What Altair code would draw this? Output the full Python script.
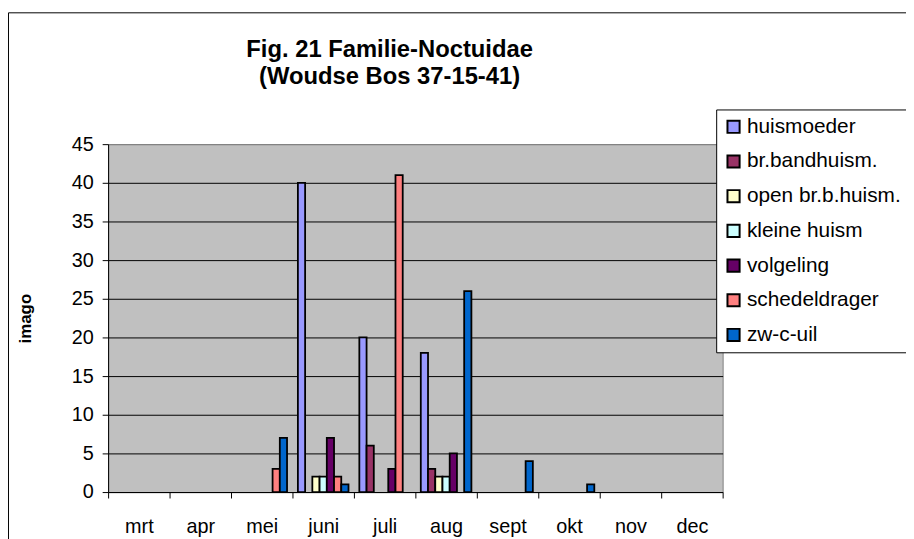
import altair as alt
import pandas as pd

months = ["mrt", "apr", "mei", "juni", "juli", "aug", "sept", "okt", "nov", "dec"]
series = ["huismoeder", "br.bandhuism.", "open br.b.huism.", "kleine huism",
          "volgeling", "schedeldrager", "zw-c-uil"]
colors = ["#9999FF", "#993366", "#FFFFCC", "#CCFFFF", "#660066", "#FF8080", "#0066CC"]

huismoeder = [0, 0, 0, 40, 20, 18, 0, 0, 0, 0]
br_bandhuism = [0, 0, 0, 0, 6, 3, 0, 0, 0, 0]
open_brb_huism = [0, 0, 0, 2, 0, 2, 0, 0, 0, 0]
kleine_huism = [0, 0, 0, 2, 0, 2, 0, 0, 0, 0]
volgeling = [0, 0, 0, 7, 3, 5, 0, 0, 0, 0]
schedeldrager = [0, 0, 3, 2, 41, 0, 0, 0, 0, 0]
zw_c_uil = [0, 0, 7, 1, 0, 26, 4, 1, 0, 0]

y_ticks = [0, 5, 10, 15, 20, 25, 30, 35, 40, 45]
title_lines = ["Fig. 21 Familie-Noctuidae", "(Woudse Bos 37-15-41)"]

all_values = [huismoeder, br_bandhuism, open_brb_huism, kleine_huism,
              volgeling, schedeldrager, zw_c_uil]
rows = []
for s, vals in zip(series, all_values):
    for m, v in zip(months, vals):
        if v > 0:
            rows.append({"maand": m, "soort": s, "imago": v})
df = pd.DataFrame(rows)

FONT = "Liberation Sans"
W, H = 620, 351
PAD_L, PAD_T = 101, 135
PAD_R = 906 - PAD_L - W
PAD_B = 531 - PAD_T - H

bars = alt.Chart(df).mark_bar(stroke="black", strokeWidth=1.8).encode(
    x=alt.X(
        "maand:N", sort=months,
        scale=alt.Scale(domain=months, paddingInner=0, paddingOuter=0),
        axis=alt.Axis(title=None, labelAngle=0, tickBand="extent", labelFontSize=20,
                      labelFont=FONT, labelColor="black", labelPadding=19, tickSize=6,
                      domainColor="black", tickColor="black", grid=False),
    ),
    xOffset=alt.XOffset(
        "soort:N", sort=series,
        scale=alt.Scale(domain=series, paddingInner=0, paddingOuter=0.75),
    ),
    y=alt.Y(
        "imago:Q",
        scale=alt.Scale(domain=[0, 45], nice=False),
        axis=alt.Axis(values=y_ticks, title="imago", labelFontSize=20, labelFont=FONT,
                      labelColor="black", labelPadding=9, tickSize=6,
                      domainColor="black", tickColor="black",
                      grid=True,
                      gridColor=alt.condition("datum.value >= 45",
                                              alt.value("#808080"), alt.value("black")),
                      gridWidth=1,
                      titleFont=FONT, titleFontSize=17, titleFontWeight="bold",
                      titleColor="black", titleAngle=270, titleX=-83, titleY=175.5,
                      titleAlign="center", titleBaseline="middle"),
    ),
    color=alt.Color(
        "soort:N",
        scale=alt.Scale(domain=series, range=colors),
        legend=alt.Legend(
            title=None, orient="none", legendX=613.5, legendY=-35,
            fillColor="white", strokeColor="black", padding=7,
            symbolType="square", symbolSize=150, symbolStrokeColor="black",
            symbolStrokeWidth=2, symbolOpacity=1,
            labelFontSize=21, labelFont=FONT, labelColor="black",
            labelOffset=3, rowPadding=13, labelLimit=400,
        ),
    ),
)

border = alt.Chart(pd.DataFrame({"a": [0]})).mark_rect(
    fill="transparent", stroke="black", strokeWidth=1
).encode(
    x=alt.value(-100.5), x2=alt.value(900), y=alt.value(-132.5), y2=alt.value(600)
)

title_df = pd.DataFrame({"line": title_lines, "dy": [-88, -61]})
title = alt.Chart(title_df).mark_text(
    font=FONT, fontSize=24, fontWeight="bold", color="black",
    align="center", baseline="alphabetic"
).encode(
    text="line:N", x=alt.value(284), y=alt.Y("dy:Q", scale=None)
)

chart = alt.layer(border, bars, title).properties(
    width=W, height=H,
    autosize=alt.AutoSizeParams(type="none"),
    padding={"left": PAD_L, "top": PAD_T, "right": PAD_R, "bottom": PAD_B},
    background="white",
).configure_view(
    fill="#C0C0C0", stroke="#808080", strokeWidth=1
)

chart.save("out.html", embed_options={"renderer": "svg", "actions": False})
